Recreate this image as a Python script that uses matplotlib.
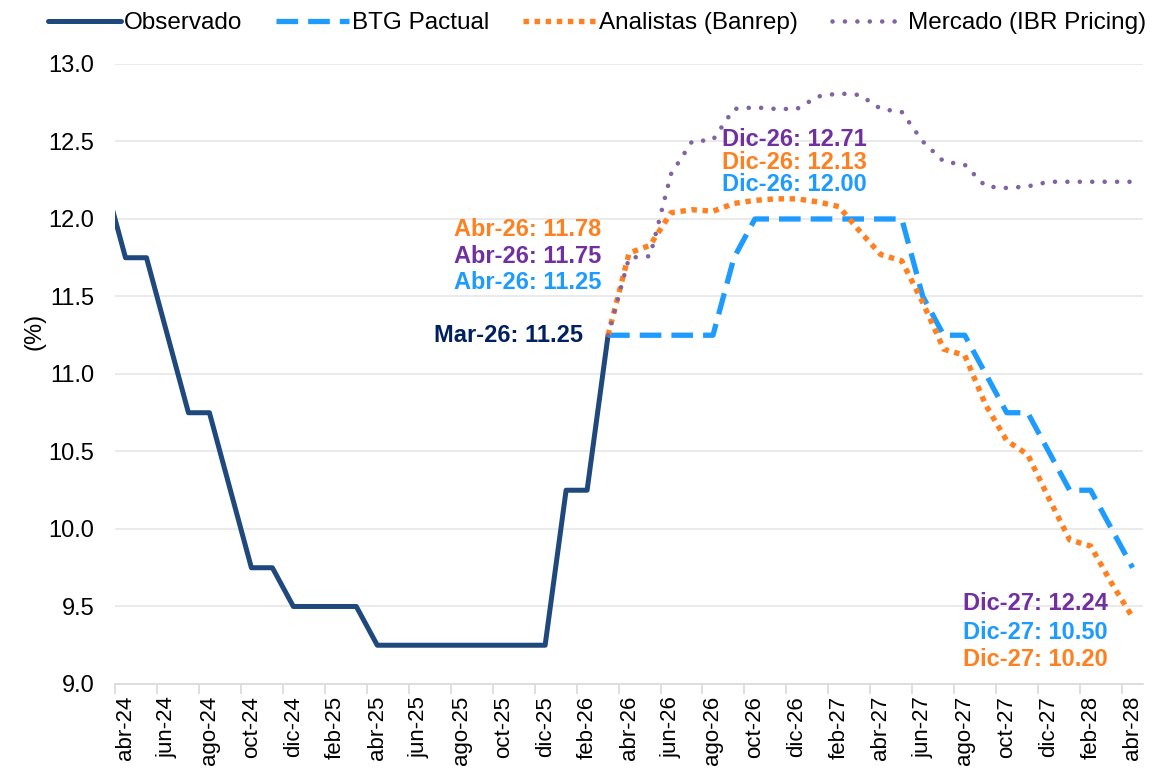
import numpy as np
import matplotlib
matplotlib.use("Agg")
import matplotlib.pyplot as plt

plt.rcParams['font.family'] = ['Liberation Sans', 'DejaVu Sans']

# months from mar-24 to abr-28
meses = ["ene", "feb", "mar", "abr", "may", "jun", "jul", "ago", "sep", "oct", "nov", "dic"]
month_labels = []
for yr in range(24, 29):
    for m in meses:
        month_labels.append(f"{m}-{yr}")
month_labels = month_labels[2:month_labels.index("abr-28") + 1]   # mar-24 .. abr-28

observado = [12.25, 11.75, 11.75, 11.25, 10.75, 10.75, 10.25, 9.75, 9.75, 9.50,
             9.50, 9.50, 9.50, 9.25, 9.25, 9.25, 9.25, 9.25, 9.25, 9.25,
             9.25, 9.25, 10.25, 10.25, 11.25]
btg = [11.25, 11.25, 11.25, 11.25, 11.25, 11.25, 11.75, 12.00, 12.00, 12.00,
       12.00, 12.00, 12.00, 12.00, 12.00, 11.50, 11.25, 11.25, 11.00, 10.75,
       10.75, 10.50, 10.25, 10.25, 10.00, 9.75]
analistas = [11.25, 11.78, 11.83, 12.04, 12.06, 12.05, 12.10, 12.12, 12.13, 12.13,
             12.11, 12.08, 11.92, 11.77, 11.73, 11.46, 11.16, 11.12, 10.80, 10.57,
             10.48, 10.20, 9.93, 9.89, 9.65, 9.43]
mercado = [11.25, 11.75, 11.76, 12.29, 12.50, 12.51, 12.71, 12.72, 12.71, 12.71,
           12.79, 12.81, 12.80, 12.71, 12.69, 12.50, 12.37, 12.35, 12.21, 12.20,
           12.21, 12.24, 12.24, 12.24, 12.24, 12.24]

c_obs = '#1F497D'
c_btg = '#1E9BFF'
c_ana = '#FF8020'
c_mer = '#8064A2'
c_mer_txt = '#7030A0'
c_obs_txt = '#002060'

x_all = np.arange(len(month_labels))
x_obs = x_all[:len(observado)]
start = month_labels.index("mar-26")
x_fc = x_all[start:]

fig = plt.figure(figsize=(11.7, 7.68), dpi=100)
ax = fig.add_axes([0.0983, 0.1094, 0.8787, 0.8073])

ax.plot(x_obs, observado, color=c_obs, lw=3.6, solid_joinstyle='round',
        solid_capstyle='round', label='Observado', zorder=3)
ax.plot(x_fc, btg, color=c_btg, lw=3.8, dashes=(4.1, 1.9), dash_capstyle='butt',
        label='BTG Pactual', zorder=4)
ax.plot(x_fc, analistas, color=c_ana, lw=3.9, dashes=(1.0, 1.05), dash_capstyle='butt',
        label='Analistas (Banrep)', zorder=5)
ax.plot(x_fc, mercado, color=c_mer, lw=3.3, dashes=(0.01, 2.7), dash_capstyle='round',
        label='Mercado (IBR Pricing)', zorder=6)

ax.set_xlim(0.5, len(month_labels) - 0.5)
ax.set_ylim(9.0, 13.0)
yt = np.arange(9.0, 13.01, 0.5)
ax.set_yticks(yt)
ax.set_yticklabels([f"{v:.1f}" for v in yt], fontsize=17)
ax.yaxis.grid(True, color='#E6E6E6', lw=1.2)
ax.set_axisbelow(True)
ax.tick_params(axis='y', length=0, pad=15)

lab_idx = x_all[1::2]
ax.set_xticks(lab_idx)
ax.set_xticklabels([month_labels[i] for i in lab_idx], rotation=90, fontsize=16, va='top')
ax.tick_params(axis='x', which='major', length=0, pad=8.5)
ax.set_xticks(lab_idx - 0.5, minor=True)
ax.tick_params(axis='x', which='minor', length=7, width=1.2, color='#D9D9D9')

for s in ['top', 'right', 'left']:
    ax.spines[s].set_visible(False)
ax.spines['bottom'].set_color('#D9D9D9')
ax.spines['bottom'].set_linewidth(1.2)

ax.set_ylabel("(%)", fontsize=17)
ax.yaxis.set_label_coords(-0.068, 0.568)

# data labels
i_abr26 = 1
i_dic26 = month_labels.index("dic-26") - start
i_dic27 = month_labels.index("dic-27") - start
fs = 17
ax.text(22.8, 11.25, f"Mar-26: {observado[-1]:.2f}", color=c_obs_txt, fontsize=fs,
        fontweight='bold', ha='right', va='center')
ax.text(23.66, 11.935, f"Abr-26: {analistas[i_abr26]:.2f}", color=c_ana, fontsize=fs,
        fontweight='bold', ha='right', va='center')
ax.text(23.66, 11.76, f"Abr-26: {mercado[i_abr26]:.2f}", color=c_mer_txt, fontsize=fs,
        fontweight='bold', ha='right', va='center')
ax.text(23.66, 11.587, f"Abr-26: {btg[i_abr26]:.2f}", color=c_btg, fontsize=fs,
        fontweight='bold', ha='right', va='center')

ax.text(29.43, 12.51, f"Dic-26: {mercado[i_dic26]:.2f}", color=c_mer_txt, fontsize=fs,
        fontweight='bold', ha='left', va='center')
ax.text(29.43, 12.365, f"Dic-26: {analistas[i_dic26]:.2f}", color=c_ana, fontsize=fs,
        fontweight='bold', ha='left', va='center')
ax.text(29.43, 12.22, f"Dic-26: {btg[i_dic26]:.2f}", color=c_btg, fontsize=fs,
        fontweight='bold', ha='left', va='center')

ax.text(40.9, 9.516, f"Dic-27: {mercado[i_dic27]:.2f}", color=c_mer_txt, fontsize=fs,
        fontweight='bold', ha='left', va='center')
ax.text(40.9, 9.335, f"Dic-27: {btg[i_dic27]:.2f}", color=c_btg, fontsize=fs,
        fontweight='bold', ha='left', va='center')
ax.text(40.9, 9.161, f"Dic-27: {analistas[i_dic27]:.2f}", color=c_ana, fontsize=fs,
        fontweight='bold', ha='left', va='center')

fig.legend(loc='upper center', bbox_to_anchor=(0.51, 1.0), ncol=4, frameon=False,
           fontsize=17.5, handlelength=3.0, handletextpad=0.12, columnspacing=1.4,
           borderaxespad=0.1)

fig.savefig("out.png", dpi=100)
